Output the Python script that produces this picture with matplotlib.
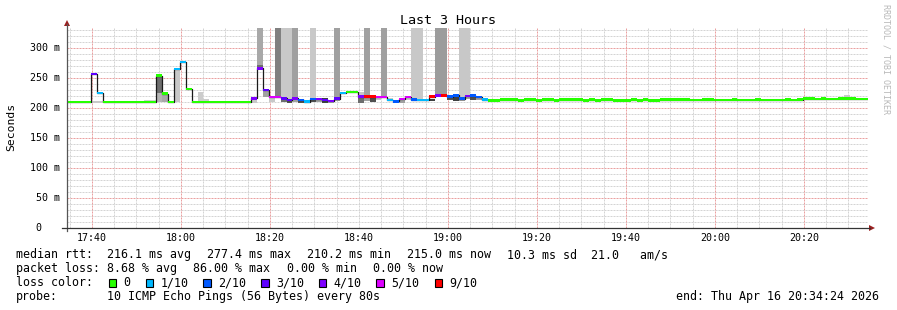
import matplotlib
matplotlib.use("Agg")
import matplotlib.pyplot as plt
from matplotlib.lines import Line2D
from matplotlib.patches import Rectangle, Polygon

W, H = 897, 310
plt.rcParams["font.family"] = ["DejaVu Sans Mono", "DejaVu Sans"]

# one probe every 80 s, 135 probes over the last 3 hours (17:34:24 .. 20:34:24)
step_min = 80 / 60.0

median_ms = [
    210, 210, 210, 210, 257, 224.5, 210, 210, 210, 210,
    210, 210, 210, 210, 210, 254, 224, 210, 264.5, 277,
    231.7, 210, 210, 210, 210, 210, 210, 210, 210, 210,
    210, 216, 266, 230, 218, 218, 216, 213, 216, 213,
    210.5, 215, 215, 213, 211.7, 215.5, 224.5, 226.7, 226.7, 219,
    219, 219, 218, 218, 213, 211, 215, 218, 214, 213,
    213, 219, 221, 221, 219, 221, 215.5, 220, 220.5, 218,
    214, 212.5, 212.5, 214, 214, 214, 212.5, 214, 214, 212.5,
    214, 214, 212.5, 214, 214, 214, 214, 212.5, 214, 212.5,
    214, 214, 212.5, 212.5, 212.5, 214, 212.5, 214, 212.5, 212.5,
    214, 214, 214, 214, 214, 213, 213.5, 214, 214, 213.5,
    213, 213.5, 214, 213.5, 213, 213.5, 214, 213.5, 213, 213.5,
    213.5, 214, 213, 214, 215.5, 215.5, 214.5, 215.5, 215, 214.5,
    215.5, 215.5, 215.5, 215, 215,
]

loss = [
    0, 0, 0, 0, 3, 1, 0, 0, 0, 0,
    0, 0, 0, 0, 0, 0, 0, 0, 1, 1,
    0, 0, 0, 0, 0, 0, 0, 0, 0, 0,
    0, 4, 4, 3, 5, 5, 3, 3, 4, 2,
    1, 2, 4, 3, 4, 3, 1, 0, 0, 4,
    9, 9, 5, 5, 1, 2, 5, 5, 2, 1,
    1, 9, 4, 9, 2, 2, 2, 4, 2, 2,
    1, 0, 0, 0, 0, 0, 0, 0, 0, 0,
    0, 0, 0, 0, 0, 0, 0, 0, 0, 0,
    0, 0, 0, 0, 0, 0, 0, 0, 0, 0,
    0, 0, 0, 0, 0, 0, 0, 0, 0, 0,
    0, 0, 0, 0, 0, 0, 0, 0, 0, 0,
    0, 0, 0, 0, 0, 0, 0, 0, 0, 0,
    0, 0, 0, 0, 0,
]

loss_keys = [0, 1, 2, 3, 4, 5, 9]
loss_labels = ["0", "1/10", "2/10", "3/10", "4/10", "5/10", "9/10"]
loss_colors = ["#26ff00", "#00b8ff", "#0059ff", "#5e00ff", "#7e00ff", "#dd00ff", "#ff0000"]

# smoke around the median
smoke_step = [4, 5, 13, 14, 15, 15, 16, 18, 22, 23, 31, 32, 33, 34, 36, 37, 38, 39, 40,
              41, 42, 43, 44, 45, 49, 49, 50, 51, 52, 54, 55, 56, 57, 58, 61, 64, 65,
              66, 67, 68, 69, 131]
smoke_lo = [209, 209, 210, 210, 210, 225, 210, 210, 210, 210, 209, 266, 218, 210, 210, 209,
            210, 209, 208, 210, 210, 209, 209, 212, 208, 219, 212, 210, 214, 212, 211, 209,
            214, 212, 212, 213, 212, 212, 215, 214, 214, 216]
smoke_hi = [211, 211, 213, 213, 225, 254, 224, 264.5, 227, 215, 216, 272, 230, 218, 216, 213,
            216, 213, 213, 215, 215, 216, 212, 215, 219, 226, 219, 219, 218, 216, 214, 215,
            218, 216, 215, 219, 221, 215.5, 220, 220.5, 218, 221]
smoke_gray = ["#c8c8c8", "#c8c8c8", "#d0d0d0", "#d0d0d0", "#b4b4b4", "#6e6e6e", "#a8a8a8",
              "#c8c8c8", "#cccccc", "#cccccc", "#c8c8c8", "#6e6e6e", "#a0a0a0", "#c8c8c8",
              "#6e6e6e", "#505050", "#a0a0a0", "#505050", "#6e6e6e", "#505050", "#a0a0a0",
              "#404040", "#a0a0a0", "#a0a0a0", "#6e6e6e", "#c8c8c8", "#a0a0a0", "#505050",
              "#c8c8c8", "#c8c8c8", "#a0a0a0", "#a0a0a0", "#c8c8c8", "#a0a0a0", "#404040",
              "#555555", "#404040", "#a0a0a0", "#a0a0a0", "#505050", "#a0a0a0", "#c8c8c8"]

# pings above the graph range
col_step = [32, 35, 36, 37, 38, 41, 45, 50, 53, 58, 59, 62, 63, 66, 67]
col_lo = [272, 218, 216, 213, 216, 215, 215.5, 219, 218, 214, 213, 221, 221, 215.5, 220]
col_gray = ["#a8a8a8", "#808080", "#c8c8c8", "#c8c8c8", "#a0a0a0", "#c8c8c8", "#a0a0a0",
            "#a0a0a0", "#a0a0a0", "#c8c8c8", "#c8c8c8", "#9c9c9c", "#9c9c9c", "#c8c8c8",
            "#c8c8c8"]

y_max = 333.33
y_ticks = [0, 50, 100, 150, 200, 250, 300]
y_tick_labels = ["0   ", "50 m", "100 m", "150 m", "200 m", "250 m", "300 m"]
x_ticks = [5.6, 25.6, 45.6, 65.6, 85.6, 105.6, 125.6, 145.6, 165.6]
x_tick_labels = ["17:40", "18:00", "18:20", "18:40", "19:00", "19:20", "19:40", "20:00", "20:20"]


def fx(x):
    return x / W


def fy(y):
    return 1 - y / H


fig = plt.figure(figsize=(W / 100, H / 100), dpi=100)
fig.patch.set_facecolor("white")
ax = fig.add_axes([fx(67), fy(228), 801 / W, 200 / H])
ax.set_xlim(0, 180)
ax.set_ylim(0, y_max)
ax.axis("off")

# grid
dash = (0, (2, 1))
for v in range(10, 340, 10):
    major = v % 50 == 0
    ax.axhline(v, color="#eaa0a0" if major else "#d4d4d4", lw=0.72, ls=dash, zorder=0)
m = 0.6
while m < 180:
    major = abs((m - 5.6) % 20) < 1e-6
    ax.axvline(m, color="#eaa0a0" if major else "#d4d4d4", lw=0.72, ls=dash, zorder=0)
    m += 5

n = len(median_ms)
lefts = [i * step_min for i in range(n)]

# smoke
for s, lo, hi, g in zip(smoke_step, smoke_lo, smoke_hi, smoke_gray):
    ax.bar(lefts[s], hi - lo, width=step_min, bottom=lo, align="edge", color=g,
           linewidth=0, antialiased=False, zorder=2)
for s, lo, g in zip(col_step, col_lo, col_gray):
    ax.bar(lefts[s], y_max - lo, width=step_min, bottom=lo, align="edge", color=g,
           linewidth=0, antialiased=False, zorder=2)

# median line
edges = lefts + [n * step_min]
ax.step(edges, median_ms + [median_ms[-1]], where="post", color="#1a1a1a", lw=0.9, zorder=3)

# median coloured by loss
color_of = dict(zip(loss_keys, loss_colors))
ax.bar(lefts, [4] * n, width=step_min, bottom=[v - 2 for v in median_ms], align="edge",
       color=[color_of[l] for l in loss], linewidth=0, antialiased=False, zorder=4)

# axes lines and arrows
fig.add_artist(Line2D([fx(67), fx(67)], [fy(231), fy(24)], color="#555555", lw=0.9))
fig.add_artist(Line2D([fx(62), fx(870)], [fy(228), fy(228)], color="#333333", lw=0.9))
fig.add_artist(Polygon([(fx(64), fy(26)), (fx(70), fy(26)), (fx(67), fy(20))],
                       closed=True, color="#9b2020", lw=0))
fig.add_artist(Polygon([(fx(869), fy(225)), (fx(869), fy(231)), (fx(875), fy(228))],
                       closed=True, color="#9b2020", lw=0))

# tick labels
for v, lab in zip(y_ticks, y_tick_labels):
    ypx = 228 - v * 200 / y_max
    fig.text(fx(60), fy(ypx), lab, ha="right", va="center", fontsize=7.2)
for t, lab in zip(x_ticks, x_tick_labels):
    xpx = 67 + t * 801 / 180
    fig.text(fx(xpx), fy(238), lab, ha="center", va="center", fontsize=7.2)

fig.text(fx(448), fy(20), "Last 3 Hours", ha="center", va="center", fontsize=9.6)
fig.text(fx(11), fy(127), "Seconds", ha="center", va="center", rotation=90, fontsize=8.2)
fig.text(fx(886), fy(59), "RRDTOOL / TOBI OETIKER", ha="center", va="center",
         rotation=-90, fontsize=6, color="#b8b8b8")

# legend block, text placed on its baseline
fs = 8.4
row1 = [(16, "median rtt:"), (107, "216.1 ms avg"), (207, "277.4 ms max"),
        (307, "210.2 ms min"), (407, "215.0 ms now"), (507, "10.3 ms sd  21.0   am/s")]
row2 = [(16, "packet loss:"), (107, "8.68 % avg"), (193, "86.00 % max"),
        (287, "0.00 % min"), (373, "0.00 % now")]
for x, s in row1:
    fig.text(fx(x), fy(258), s, ha="left", va="baseline", fontsize=fs)
for x, s in row2:
    fig.text(fx(x), fy(272), s, ha="left", va="baseline", fontsize=fs)

fig.text(fx(16), fy(286), "loss color:", ha="left", va="baseline", fontsize=fs)
box_x = [108.5, 145.5, 203, 261, 318.5, 376, 434.5]
for bx, c, lab in zip(box_x, loss_colors, loss_labels):
    fig.add_artist(Rectangle((fx(bx), fy(286.5)), 7.5 / W, 7.5 / H, facecolor=c,
                             edgecolor="black", lw=0.8))
    fig.text(fx(bx + 15), fy(286), lab, ha="left", va="baseline", fontsize=fs)

fig.text(fx(16), fy(300), "probe:", ha="left", va="baseline", fontsize=fs)
fig.text(fx(107), fy(300), "10 ICMP Echo Pings (56 Bytes) every 80s", ha="left",
         va="baseline", fontsize=fs)
fig.text(fx(879), fy(300), "end: Thu Apr 16 20:34:24 2026", ha="right", va="baseline",
         fontsize=fs)

fig.savefig("out.png", dpi=100)
